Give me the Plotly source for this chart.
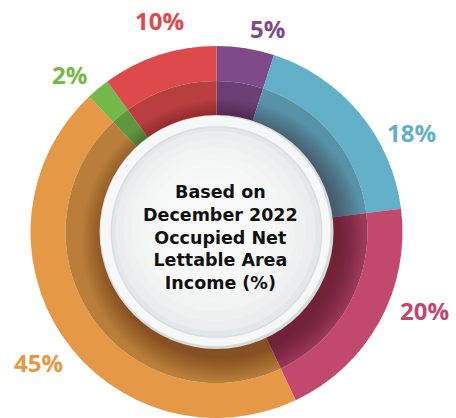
import math
import plotly.graph_objects as go

# Income split by share, clockwise from 12 o'clock
segments = ["Segment A", "Segment B", "Segment C", "Segment D", "Segment E", "Segment F"]
shares = [5, 18, 20, 45, 2, 10]
colors = ["#7F4A89", "#62AFC8", "#C2486E", "#E59845", "#74B84A", "#DE4A4B"]
inner_colors = ["#6A3F74", "#5792A8", "#9A3A5A", "#BA7E3B", "#5E983E", "#B83E40"]
center_lines = ["Based on", "December 2022", "Occupied Net", "Lettable Area", "Income (%)"]

# label placement tweaks (degrees of angle, px of radius)
label_nudge_deg = [5, 12.6, -8, -2, -3.4, 3]
label_radius = [210, 219, 222, 221, 215, 219]

W, H = 456, 418
CX, R_OUT = 216.5, 186
CY = H - R_OUT          # pie fills domain from the bottom edge
R_MID, R_IN = 151, 117


def px(x):
    return x / W


def py(y):
    return (H - y) / H


def circle(cx, cy, r, fill):
    return dict(type="circle", xref="paper", yref="paper",
                x0=px(cx - r), x1=px(cx + r), y0=py(cy + r), y1=py(cy - r),
                fillcolor=fill, line=dict(width=0), layer="above")


fig = go.Figure()

fig.add_trace(go.Pie(
    labels=segments, values=shares, sort=False, direction="clockwise", rotation=0,
    hole=R_MID / R_OUT, marker=dict(colors=colors, line=dict(width=0)),
    textinfo="none", hoverinfo="skip", showlegend=False,
    domain=dict(x=[px(CX - R_OUT), px(CX + R_OUT)], y=[py(CY + R_OUT), py(CY - R_OUT)]),
))
fig.add_trace(go.Pie(
    labels=segments, values=shares, sort=False, direction="clockwise", rotation=0,
    hole=0.6, marker=dict(colors=inner_colors, line=dict(width=0)),
    textinfo="none", hoverinfo="skip", showlegend=False,
    domain=dict(x=[px(CX - R_MID), px(CX + R_MID)], y=[py(CY + R_MID), py(CY - R_MID)]),
))

shapes = []
# soft shadow cast by the centre disc towards the lower right
n_steps = 16
for k in range(n_steps):
    r = 141 - k * (141 - 118) / (n_steps - 1)
    shapes.append(circle(CX + 6, CY + 8, r, "rgba(30,10,10,0.022)"))
# centre disc
shapes += [
    circle(CX, CY, R_IN, "#D5DADB"),
    circle(CX - 1, CY - 1, R_IN - 2, "#F6F7F7"),
    circle(CX, CY, 106, "#D9DEDF"),
    circle(CX, CY, 104.5, "#E5E8E9"),
]
for k in range(8):
    r = 100 - k * 9
    off = 1 + k
    shapes.append(circle(CX - off, CY - off, r, "rgba(250,250,250,0.28)"))

annotations = []
total = sum(shares)
cum = 0
for v, c, nud, rl in zip(shares, colors, label_nudge_deg, label_radius):
    mid = (cum + v / 2) / total * 360 + nud
    cum += v
    lx = CX + rl * math.sin(math.radians(mid))
    ly = CY - rl * math.cos(math.radians(mid))
    annotations.append(dict(
        x=px(lx), y=py(ly), xref="paper", yref="paper", showarrow=False,
        text=f"{v}%", xanchor="center", yanchor="middle",
        font=dict(family="Open Sans", size=24, color=c, weight="bold"),
    ))

# centre caption as one multi-line block
annotations.append(dict(
    x=px(220), y=py(CY + 5), xref="paper", yref="paper", showarrow=False,
    text="<br>".join(center_lines), align="center",
    xanchor="center", yanchor="middle",
    font=dict(family="DejaVu Sans", size=17.5, color="#111111", weight="bold"),
))

fig.update_layout(
    width=W, height=H, margin=dict(l=0, r=0, t=0, b=0),
    paper_bgcolor="white", plot_bgcolor="white",
    shapes=shapes, annotations=annotations,
)

fig.write_html("out.html")
